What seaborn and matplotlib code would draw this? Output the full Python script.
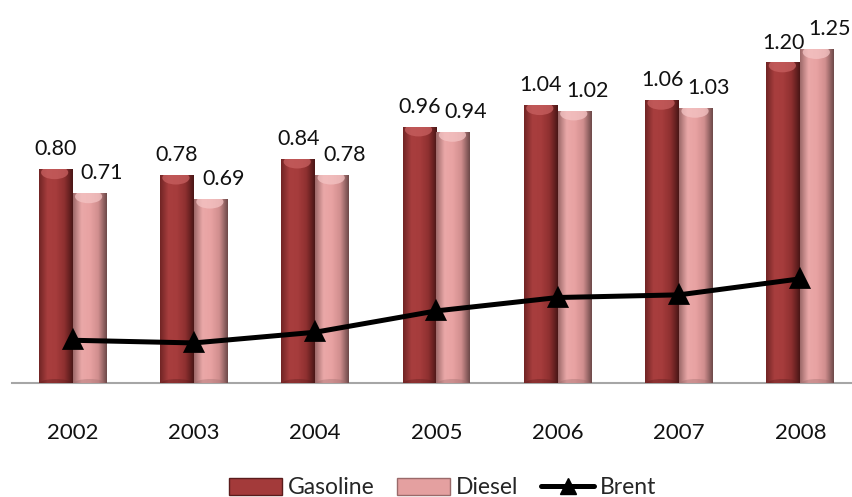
import numpy as np
import pandas as pd
import matplotlib
matplotlib.use("Agg")
import matplotlib.pyplot as plt
import seaborn as sns
from matplotlib.colors import LinearSegmentedColormap
from matplotlib.patches import Patch, Ellipse
from matplotlib.lines import Line2D

# Prices per litre
years = ["2002", "2003", "2004", "2005", "2006", "2007", "2008"]
gasoline = [0.80, 0.78, 0.84, 0.96, 1.04, 1.06, 1.20]
diesel = [0.71, 0.69, 0.78, 0.94, 1.02, 1.03, 1.25]
brent = [0.16, 0.15, 0.19, 0.27, 0.32, 0.33, 0.39]
fuels = ["Gasoline", "Diesel"]

base_colors = {"Gasoline": "#a33a3a", "Diesel": "#e4a0a0"}
edge_colors = {"Gasoline": "#5a1c1c", "Diesel": "#9a6a6a"}
cap_colors = {"Gasoline": "#c86060", "Diesel": "#f4c4c4"}
shade_maps = {
    "Gasoline": LinearSegmentedColormap.from_list(
        "gas", ["#702424", "#a83e3e", "#a63c3c", "#8e3030", "#4a1616"]),
    "Diesel": LinearSegmentedColormap.from_list(
        "dsl", ["#9c6868", "#eaa8a8", "#e8a2a2", "#d08e8e", "#6c4848"]),
}

sns.set_theme(style="white")
plt.rcParams["font.family"] = ["Lato", "DejaVu Sans"]

df = pd.DataFrame({
    "Year": years * 2,
    "Price": gasoline + diesel,
    "Fuel": ["Gasoline"] * len(years) + ["Diesel"] * len(years),
})

fig = plt.figure(figsize=(8.53, 4.97), dpi=100)
ax = fig.add_axes([12 / 853, 114 / 497, 849 / 853, 374 / 497])

sns.barplot(data=df, x="Year", y="Price", hue="Fuel", order=years,
            hue_order=fuels, palette=base_colors, width=0.56, gap=0,
            saturation=1, errorbar=None, legend=False, ax=ax,
            edgecolor="none", zorder=2)

# cylindrical shading on each bar
for name, cont in zip(fuels, ax.containers):
    cmap = shade_maps[name]
    for bar in cont:
        x0, w, h = bar.get_x(), bar.get_width(), bar.get_height()
        grad = np.linspace(0, 1, 128)[None, :]
        im = ax.imshow(grad, cmap=cmap, extent=(x0, x0 + w, 0, h),
                       aspect="auto", origin="lower", zorder=2.1,
                       interpolation="bicubic")
        im.set_clip_path(bar)
        cap = Ellipse((x0 + w * 0.47, h - 0.012), w * 0.8, 0.05,
                      facecolor=cap_colors[name], edgecolor="none",
                      alpha=0.75, zorder=2.2)
        ax.add_patch(cap)
        cap.set_clip_path(bar)
        base = Ellipse((x0 + w * 0.5, 0.0), w * 0.9, 0.03,
                       facecolor=edge_colors[name], edgecolor="none",
                       alpha=0.35, zorder=2.2)
        ax.add_patch(base)
        base.set_clip_path(bar)

# Brent line
sns.pointplot(x=years, y=brent, order=years, color="black", markers="^",
              markersize=12, linewidth=3.6, errorbar=None, ax=ax, zorder=5)

# value labels
for i, v in enumerate(gasoline):
    bar = ax.containers[0][i]
    ax.annotate(f"{v:.2f}", xy=(bar.get_x() + bar.get_width() / 2, v),
                xytext=(0, 10), textcoords="offset points",
                ha="center", va="baseline", fontsize=15.5, color="#111111")
for i, v in enumerate(diesel):
    bar = ax.containers[1][i]
    ax.annotate(f"{v:.2f}", xy=(bar.get_x() + bar.get_width() / 2, v),
                xytext=(9, 10), textcoords="offset points",
                ha="center", va="baseline", fontsize=15.5, color="#111111")

ax.set_xlim(-0.5, 6.5)
ax.set_ylim(0, 1.4)
ax.set_xlabel("")
ax.set_ylabel("")
ax.set_yticks([])
ax.set_xticks(range(len(years)))
ax.set_xticklabels(years, fontsize=16, color="#111111")
ax.set_xticks(np.arange(-0.5, len(years), 1.0), minor=True)
ax.tick_params(axis="x", which="major", length=0, pad=29)
ax.tick_params(axis="x", which="minor", direction="inout", length=11.5,
               width=1.5, color="#a6a6a6")
for side in ["top", "right", "left"]:
    ax.spines[side].set_visible(False)
ax.spines["bottom"].set_color("#a6a6a6")
ax.spines["bottom"].set_linewidth(1.5)
ax.spines["bottom"].set_zorder(1)

handles = [
    Patch(facecolor=base_colors["Gasoline"], edgecolor=edge_colors["Gasoline"]),
    Patch(facecolor=base_colors["Diesel"], edgecolor=edge_colors["Diesel"]),
    Line2D([0], [0], color="black", lw=3.6, marker="^", markersize=12),
]
fig.legend(handles, ["Gasoline", "Diesel", "Brent"], loc="center",
           bbox_to_anchor=(0.519, 1 - 488 / 497), ncol=3, frameon=False,
           fontsize=16.5, handlelength=2.3, handletextpad=0.25,
           columnspacing=1.0)

fig.savefig("out.png", dpi=100)
